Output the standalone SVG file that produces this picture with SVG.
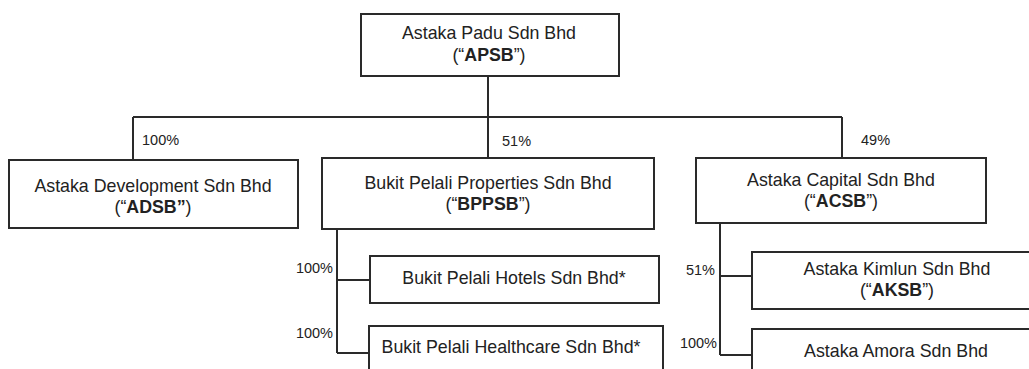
<svg xmlns="http://www.w3.org/2000/svg" width="1029" height="369" viewBox="0 0 1029 369">
<style>
.box{fill:#fff;stroke:#2a2a2a;stroke-width:2}
.ln{fill:none;stroke:#2a2a2a;stroke-width:2}
.t{font-family:"Liberation Sans",Arial,sans-serif;font-size:17.8px;fill:#222;text-anchor:middle}
.b{font-weight:bold}
.p{font-family:"Liberation Sans",Arial,sans-serif;font-size:14.5px;fill:#222}
.r{text-anchor:end}
</style>
<rect width="1029" height="369" fill="#fff"/>
<g id="connectors">
<path class="ln" d="M488 76V158M133 117H842M133 117V160M842 117V158"/>
<path class="ln" d="M337 229V353M337 280H370M337 353H369"/>
<path class="ln" d="M720 223V355M720 276H752M720 355H752"/>
<text class="p" x="142" y="145">100%</text>
<text class="p" x="502" y="146">51%</text>
<text class="p" x="861" y="145">49%</text>
<text class="p r" x="333" y="273">100%</text>
<text class="p r" x="333" y="338">100%</text>
<text class="p r" x="715" y="275">51%</text>
<text class="p r" x="717" y="348">100%</text>
</g>
<g id="apsb">
<rect class="box" x="361" y="14" width="258" height="62"/>
<text class="t" x="489" y="39">Astaka Padu Sdn Bhd</text>
<text class="t" x="489" y="61">(“<tspan class="b">APSB</tspan>”)</text>
</g>
<g id="adsb">
<rect class="box" x="9" y="160" width="289" height="68"/>
<text class="t" x="153" y="192">Astaka Development Sdn Bhd</text>
<text class="t" x="153" y="213">(“<tspan class="b">ADSB”</tspan>)</text>
</g>
<g id="bppsb">
<rect class="box" x="322" y="158" width="332" height="71"/>
<text class="t" x="488" y="189">Bukit Pelali Properties Sdn Bhd</text>
<text class="t" x="488" y="210">(“<tspan class="b">BPPSB</tspan>”)</text>
</g>
<g id="acsb">
<rect class="box" x="696" y="158" width="290" height="65"/>
<text class="t" x="841" y="186">Astaka Capital Sdn Bhd</text>
<text class="t" x="841" y="207">(“<tspan class="b">ACSB</tspan>”)</text>
</g>
<g id="bph">
<rect class="box" x="370" y="256" width="289" height="47"/>
<text class="t" x="514" y="284">Bukit Pelali Hotels Sdn Bhd*</text>
</g>
<g id="bphc">
<rect class="box" x="369" y="326" width="294" height="60"/>
<text class="t" x="511" y="353">Bukit Pelali Healthcare Sdn Bhd*</text>
</g>
<g id="aksb">
<rect class="box" x="752" y="252" width="300" height="57"/>
<text class="t" x="897" y="275">Astaka Kimlun Sdn Bhd</text>
<text class="t" x="897" y="296">(“<tspan class="b">AKSB</tspan>”)</text>
</g>
<g id="aasb">
<rect class="box" x="752" y="329" width="300" height="60"/>
<text class="t" x="896" y="357">Astaka Amora Sdn Bhd</text>
</g>
</svg>
